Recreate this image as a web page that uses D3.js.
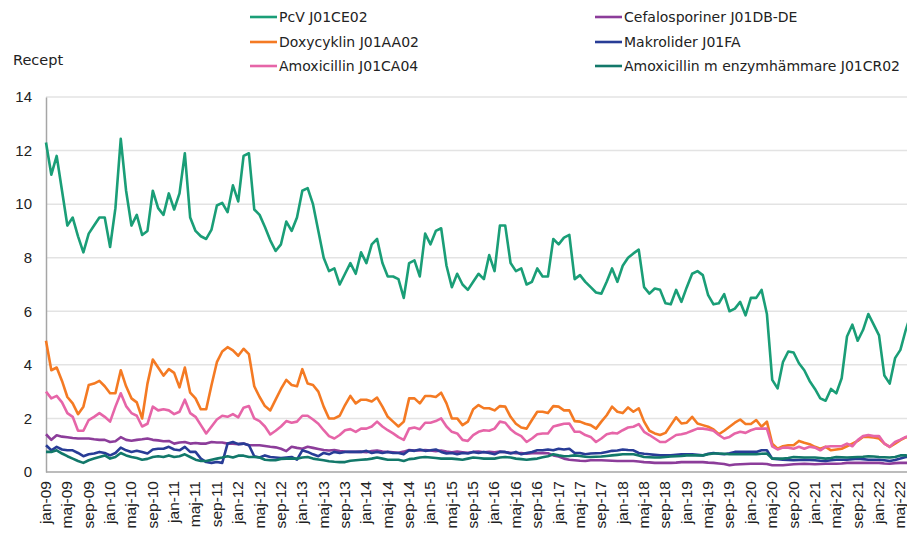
<!DOCTYPE html>
<html lang="sv">
<head>
<meta charset="UTF-8">
<title>Recept per månad</title>
<script src="https://d3js.org/d3.v7.min.js"></script>
<style>
  body { margin: 0; background: #fff; }
  svg { display: block; font-family: "DejaVu Sans", Verdana, sans-serif; }
  .grid line { stroke: #e3e3e3; stroke-width: 1.5px; }
  .tick text { fill: #222; }
  .serie { fill: none; stroke-width: 2.6px; stroke-linejoin: round; }
</style>
</head>
<body>
<svg width="907" height="533"></svg>
<script>
// kategorier: jan-09 .. jul-22
const months = ["jan","feb","mar","apr","maj","jun","jul","aug","sep","okt","nov","dec"];
const years = d3.range(9, 23);
const nMonths = 163;

const pcv = [12.3,11.1,11.8,10.5,9.2,9.5,8.8,8.2,8.9,9.2, 9.5,9.5,8.4,9.85,12.44,10.5,9.2,9.6,8.85,9.0,
  10.5,9.85,9.6,10.4,9.8,10.4,11.9,9.5,9.0,8.8, 8.7,9.05,9.95,10.05,9.7,10.7,10.1,11.8,11.9,9.8,
  9.6,9.15,8.65,8.25,8.5,9.35,9.0,9.5,10.5,10.6, 10.0,9.0,8.0,7.5,7.6,7.0,7.4,7.8,7.4,8.2,
  7.8,8.5,8.7,7.8,7.3,7.3,7.2,6.5,7.8,7.9, 7.3,8.9,8.5,9.0,9.1,7.7,6.9,7.4,7.0,6.8,
  7.1,7.4,7.2,8.1,7.5,9.2,9.2,7.8,7.5,7.6, 7.0,7.1,7.6,7.3,7.3,8.7,8.5,8.75,8.85,7.2,
  7.35,7.1,6.9,6.7,6.66,7.1,7.6,7.1,7.7,8.0, 8.16,8.3,6.9,6.66,6.85,6.8,6.3,6.26,6.8,6.35,
  6.9,7.4,7.5,7.35,6.6,6.26,6.3,6.64,6.0,6.1, 6.35,5.85,6.5,6.5,6.8,5.9,3.44,3.12,4.1,4.5,
  4.46,4.06,3.8,3.4,3.1,2.75,2.66,3.1,2.94,3.5, 5.06,5.5,4.9,5.3,5.9,5.5,5.1,3.6,3.3,4.25,
  4.56,5.3,5.9];

const cefalosporiner = [1.41,1.2,1.37,1.32,1.3,1.27,1.25,1.25,1.25,1.22, 1.2,1.2,1.12,1.15,1.3,1.2,1.17,1.2,1.22,1.25,
  1.2,1.18,1.15,1.16,1.06,1.1,1.12,1.06,1.08,1.06, 1.06,1.12,1.1,1.1,1.06,1.06,1.04,1.06,1.0,1.0,
  1.0,0.97,0.94,0.92,0.87,0.78,0.94,0.9,0.87,0.94, 0.9,0.86,0.82,0.8,0.82,0.78,0.76,0.75,0.75,0.76,
  0.74,0.78,0.8,0.76,0.75,0.74,0.72,0.76,0.82,0.8, 0.8,0.82,0.8,0.78,0.8,0.76,0.74,0.76,0.74,0.72,
  0.75,0.76,0.74,0.75,0.74,0.76,0.74,0.72,0.7,0.71, 0.68,0.7,0.7,0.71,0.7,0.62,0.58,0.5,0.46,0.44,
  0.42,0.41,0.44,0.44,0.44,0.43,0.42,0.41,0.41,0.41, 0.41,0.39,0.37,0.36,0.34,0.34,0.34,0.34,0.35,0.37,
  0.37,0.37,0.37,0.37,0.35,0.34,0.32,0.3,0.25,0.28, 0.29,0.3,0.31,0.31,0.31,0.3,0.25,0.25,0.25,0.27,
  0.29,0.3,0.31,0.3,0.29,0.3,0.31,0.31,0.31,0.32, 0.34,0.34,0.34,0.34,0.34,0.34,0.34,0.32,0.31,0.33,
  0.34,0.34,0.34];

const doxycyklin = [4.9,3.8,3.9,3.4,2.8,2.56,2.16,2.44,3.25,3.3, 3.4,3.2,2.94,2.94,3.8,3.2,2.75,2.6,2.0,3.3,
  4.2,3.9,3.6,3.84,3.7,3.16,3.9,2.96,2.75,2.34, 2.34,3.25,4.1,4.5,4.66,4.54,4.34,4.6,4.4,3.2,
  2.8,2.46,2.3,2.7,3.1,3.44,3.25,3.2,3.84,3.3, 3.25,3.0,2.44,2.0,2.0,2.1,2.5,2.84,2.56,2.7,
  2.7,2.63,2.78,2.44,2.06,1.88,1.7,1.88,2.75,2.75, 2.56,2.84,2.84,2.8,2.96,2.56,2.0,2.0,1.75,1.88,
  2.34,2.5,2.38,2.38,2.3,2.46,2.44,2.06,1.8,1.66, 1.62,1.94,2.25,2.25,2.2,2.46,2.44,2.3,2.3,1.9,
  1.88,1.8,1.75,1.62,1.88,2.12,2.44,2.25,2.2,2.41, 2.25,2.38,1.88,1.54,1.44,1.38,1.46,1.75,2.04,1.81,
  1.84,2.06,1.81,1.75,1.69,1.59,1.41,1.54,1.69,1.84, 1.96,1.79,1.79,1.94,1.69,1.88,1.06,0.87,0.96,1.0,
  1.0,1.16,1.09,1.04,0.94,0.87,0.94,0.81,0.84,0.87, 0.96,1.06,1.16,1.31,1.31,1.29,1.25,1.06,0.94,1.06,
  1.19,1.29,1.33];

const makrolider = [1.0,0.81,0.94,0.84,0.81,0.81,0.71,0.59,0.66,0.69, 0.75,0.71,0.62,0.71,0.91,0.81,0.75,0.79,0.75,0.69,
  0.84,0.87,0.87,0.94,0.84,0.81,0.94,0.75,0.75,0.5, 0.37,0.34,0.37,0.34,1.06,1.12,1.04,1.06,1.0,0.59,
  0.54,0.62,0.56,0.54,0.52,0.54,0.56,0.46,0.81,0.75, 0.66,0.59,0.71,0.66,0.75,0.71,0.75,0.75,0.75,0.75,
  0.79,0.71,0.75,0.71,0.75,0.71,0.71,0.66,0.81,0.79, 0.84,0.79,0.81,0.84,0.75,0.69,0.71,0.66,0.71,0.69,
  0.75,0.71,0.75,0.71,0.66,0.75,0.75,0.69,0.75,0.66, 0.71,0.75,0.81,0.81,0.84,0.81,0.87,0.84,0.87,0.71,
  0.71,0.66,0.69,0.7,0.71,0.75,0.79,0.8,0.84,0.82, 0.81,0.71,0.68,0.66,0.64,0.62,0.62,0.62,0.64,0.66,
  0.66,0.66,0.64,0.62,0.68,0.71,0.68,0.66,0.7,0.75, 0.75,0.75,0.75,0.75,0.81,0.81,0.5,0.48,0.46,0.45,
  0.44,0.45,0.46,0.45,0.44,0.42,0.41,0.44,0.46,0.46, 0.46,0.48,0.5,0.48,0.46,0.46,0.46,0.44,0.41,0.45,
  0.5,0.56,0.58];

const amoxicillin = [3.0,2.75,2.84,2.6,2.2,2.06,1.54,1.54,1.94,2.06, 2.2,2.06,1.88,2.44,2.94,2.46,2.2,2.1,1.7,1.8,
  2.44,2.3,2.34,2.3,2.16,2.25,2.7,2.2,2.06,1.75, 1.44,1.7,1.96,2.1,2.06,2.16,2.04,2.4,2.46,2.0,
  1.9,1.7,1.4,1.54,1.7,1.9,1.84,1.88,2.1,2.1, 1.96,1.8,1.56,1.34,1.25,1.38,1.56,1.6,1.5,1.62,
  1.62,1.7,1.88,1.7,1.56,1.44,1.3,1.2,1.62,1.66, 1.6,1.84,1.84,1.9,2.0,1.7,1.5,1.44,1.2,1.16,
  1.38,1.5,1.56,1.54,1.62,1.88,1.84,1.6,1.44,1.34, 1.12,1.25,1.41,1.44,1.44,1.7,1.75,1.8,1.81,1.5,
  1.5,1.38,1.31,1.12,1.25,1.41,1.46,1.44,1.56,1.66, 1.69,1.79,1.5,1.38,1.25,1.12,1.12,1.25,1.38,1.41,
  1.46,1.54,1.62,1.62,1.59,1.54,1.38,1.25,1.31,1.44, 1.5,1.46,1.56,1.62,1.62,1.62,0.96,0.84,0.91,0.91,
  0.87,0.94,0.87,0.94,0.91,0.81,0.94,0.96,0.96,0.96, 1.06,0.96,1.19,1.34,1.38,1.34,1.34,1.06,0.94,1.12,
  1.21,1.31,1.35];

const amoxEnzym = [0.75,0.75,0.81,0.69,0.59,0.5,0.41,0.34,0.44,0.5, 0.56,0.62,0.5,0.56,0.71,0.62,0.56,0.52,0.46,0.49,
  0.56,0.59,0.56,0.62,0.56,0.59,0.66,0.56,0.46,0.41, 0.41,0.46,0.5,0.54,0.59,0.54,0.61,0.61,0.56,0.56,
  0.54,0.46,0.44,0.44,0.49,0.5,0.5,0.5,0.54,0.56, 0.5,0.47,0.44,0.4,0.38,0.37,0.37,0.42,0.44,0.46,
  0.47,0.5,0.54,0.5,0.46,0.46,0.46,0.41,0.48,0.5, 0.54,0.56,0.54,0.52,0.5,0.5,0.5,0.48,0.46,0.5,
  0.54,0.52,0.5,0.5,0.5,0.54,0.56,0.54,0.5,0.48, 0.46,0.48,0.5,0.55,0.59,0.66,0.62,0.59,0.6,0.62,
  0.6,0.57,0.56,0.57,0.58,0.6,0.62,0.64,0.66,0.66, 0.66,0.62,0.56,0.55,0.54,0.54,0.56,0.58,0.59,0.6,
  0.62,0.62,0.62,0.62,0.66,0.69,0.69,0.68,0.66,0.66, 0.66,0.66,0.66,0.66,0.68,0.69,0.5,0.5,0.5,0.52,
  0.56,0.55,0.54,0.54,0.54,0.52,0.5,0.52,0.56,0.55, 0.54,0.55,0.56,0.57,0.59,0.58,0.56,0.55,0.54,0.56,
  0.62,0.62,0.6];

const categories = [];
years.forEach(y => months.forEach(m => {
  if (categories.length < nMonths) categories.push(m + "-" + String(y).padStart(2, "0"));
}));

// ordning som i Excel-legenden (radvis)
const series = [
  { name: "PcV J01CE02", values: pcv, color: "#1a9e77" },
  { name: "Cefalosporiner J01DB-DE", values: cefalosporiner, color: "#8c3d9a" },
  { name: "Doxycyklin J01AA02", values: doxycyklin, color: "#f47a23" },
  { name: "Makrolider J01FA", values: makrolider, color: "#283c96" },
  { name: "Amoxicillin J01CA04", values: amoxicillin, color: "#e665a8" },
  { name: "Amoxicillin m enzymhämmare J01CR02", values: amoxEnzym, color: "#12786a" }
];

const svg = d3.select("svg");
const mLeft = 46, mBottom = 472, mTop = 97, step = 5.34;

const x = d3.scaleLinear().domain([0, nMonths - 1]).range([mLeft, mLeft + step * (nMonths - 1)]);
const y = d3.scaleLinear().domain([0, 14]).range([mBottom, mTop]);

// stödlinjer
svg.append("g").attr("class", "grid")
  .selectAll("line").data(d3.range(2, 15, 2)).join("line")
  .attr("x1", mLeft).attr("x2", 907)
  .attr("y1", d => y(d)).attr("y2", d => y(d));

// y-axel
const yAxis = svg.append("g").attr("transform", `translate(${mLeft},0)`)
  .call(d3.axisLeft(y).tickValues(d3.range(0, 15, 2)).tickSize(0).tickPadding(14));
yAxis.select(".domain").attr("stroke", "#a6a6a6").attr("stroke-width", 1.5);
yAxis.selectAll("text").style("font-size", "15px");

// x-axel
const xAxis = svg.append("g").attr("transform", `translate(0,${mBottom})`)
  .call(d3.axisBottom(x).tickValues(d3.range(0, nMonths, 4)).tickFormat(i => categories[i]).tickSize(0));
xAxis.select(".domain").attr("stroke", "#a6a6a6").attr("stroke-width", 1.5).attr("d", `M${mLeft},0H907`);
xAxis.selectAll("text")
  .style("font-size", "15.5px")
  .attr("text-anchor", "end")
  .attr("transform", "rotate(-90)")
  .attr("x", -9).attr("y", -1).attr("dy", "0.35em");

// linjer
const line = d3.line().x((d, i) => x(i)).y(d => y(d));
svg.append("g").selectAll("path").data(series).join("path")
  .attr("class", "serie")
  .attr("stroke", d => d.color)
  .attr("d", d => line(d.values));

// y-titel
svg.append("text").attr("x", 13).attr("y", 65).style("font-size", "14.5px").attr("fill", "#222").text("Recept");

// legend
const legCols = [250, 595], legRows = [17, 42, 66];
series.forEach((s, k) => {
  const lx = legCols[k % 2], ly = legRows[Math.floor(k / 2)];
  const g = svg.append("g").attr("transform", `translate(${lx},${ly})`);
  g.append("line").attr("x1", 0).attr("x2", 27).attr("stroke", s.color).attr("stroke-width", 2.6);
  g.append("text").attr("x", 29).attr("dy", "0.35em").style("font-size", "14px").attr("fill", "#222").text(s.name);
});
</script>
</body>
</html>
